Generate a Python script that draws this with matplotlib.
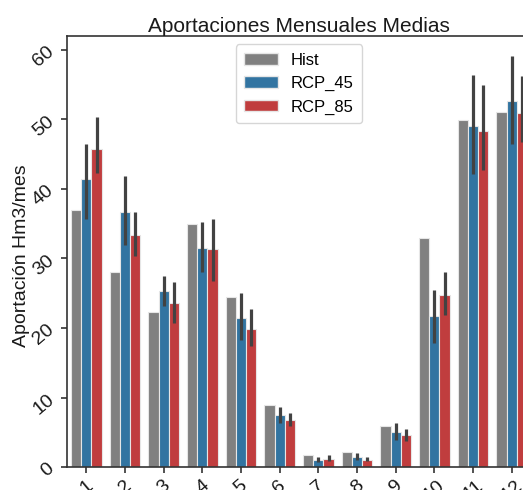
import matplotlib
matplotlib.use("Agg")
import matplotlib.pyplot as plt
import numpy as np
from matplotlib.patches import Patch

months = ["1", "2", "3", "4", "5", "6", "7", "8", "9", "10", "11", "12"]
series_names = ["Hist", "RCP_45", "RCP_85"]

hist = [37.0, 28.0, 22.3, 35.0, 24.5, 8.9, 1.7, 2.2, 5.85, 33.0, 49.9, 51.1]

rcp45 = [41.4, 36.7, 25.3, 31.5, 21.4, 7.5, 1.0, 1.4, 5.0, 21.7, 49.0, 52.7]
rcp45_lo = [35.7, 31.9, 23.2, 28.0, 18.2, 6.4, 0.7, 1.0, 3.9, 17.9, 42.2, 46.4]
rcp45_hi = [46.5, 41.8, 27.5, 35.2, 25.0, 8.6, 1.5, 2.0, 6.4, 25.4, 56.4, 59.1]

rcp85 = [45.7, 33.4, 23.6, 31.3, 19.8, 6.8, 1.2, 1.05, 4.55, 24.7, 48.4, 50.9]
rcp85_lo = [42.3, 30.4, 20.7, 26.8, 17.4, 5.9, 0.9, 0.85, 3.75, 21.8, 42.7, 46.7]
rcp85_hi = [50.3, 36.7, 26.6, 35.7, 22.7, 7.8, 1.7, 1.45, 5.4, 28.0, 55.0, 56.2]

colors = ["#808080", "#3274a1", "#c03d3e"]
err_color = "#424242"

plt.rcParams["font.family"] = ["Liberation Sans", "DejaVu Sans"]

fig = plt.figure(figsize=(5.23, 4.90), dpi=100)
ax = fig.add_axes([0.1281, 0.0469, 0.8872, 0.8796])

x = np.arange(len(months))
w = 0.8 / 3
vals = [hist, rcp45, rcp85]
for i, (v, c) in enumerate(zip(vals, colors)):
    ax.bar(x + (i - 1) * w, v, width=w, color=c, edgecolor="#e6e6e6",
           linewidth=0.8, label=series_names[i], zorder=2)

ax.vlines(x, rcp45_lo, rcp45_hi, color=err_color, linewidth=2.3, zorder=3)
ax.vlines(x + w, rcp85_lo, rcp85_hi, color=err_color, linewidth=2.3, zorder=3)

ax.set_xlim(-0.5, 11.5)
ax.set_ylim(0, 62)
ax.set_xticks(x)
ax.set_xticklabels(months, rotation=40, fontsize=14)
ax.set_yticks([0, 10, 20, 30, 40, 50, 60])
ax.set_yticklabels(["0", "10", "20", "30", "40", "50", "60"], rotation=40, fontsize=14)
ax.tick_params(axis="both", direction="out", length=4, width=1.2, color="#333333",
               labelcolor="#1a1a1a", pad=3)
for s in ax.spines.values():
    s.set_color("#333333")
    s.set_linewidth(1.2)

ax.set_ylabel("Aportación Hm3/mes", fontsize=14, color="#1a1a1a")
ax.yaxis.set_label_coords(-0.08, 0.49)
ax.set_title("Aportaciones Mensuales Medias", fontsize=15, color="#1a1a1a", pad=3)

handles = [Patch(facecolor=c, edgecolor="#e6e6e6", label=n) for c, n in zip(colors, series_names)]
leg = ax.legend(handles=handles, loc="upper center", fontsize=12, frameon=True,
                handlelength=2.0, borderpad=0.5)
leg.get_frame().set_edgecolor("#cccccc")

fig.savefig("out.png", dpi=100)
